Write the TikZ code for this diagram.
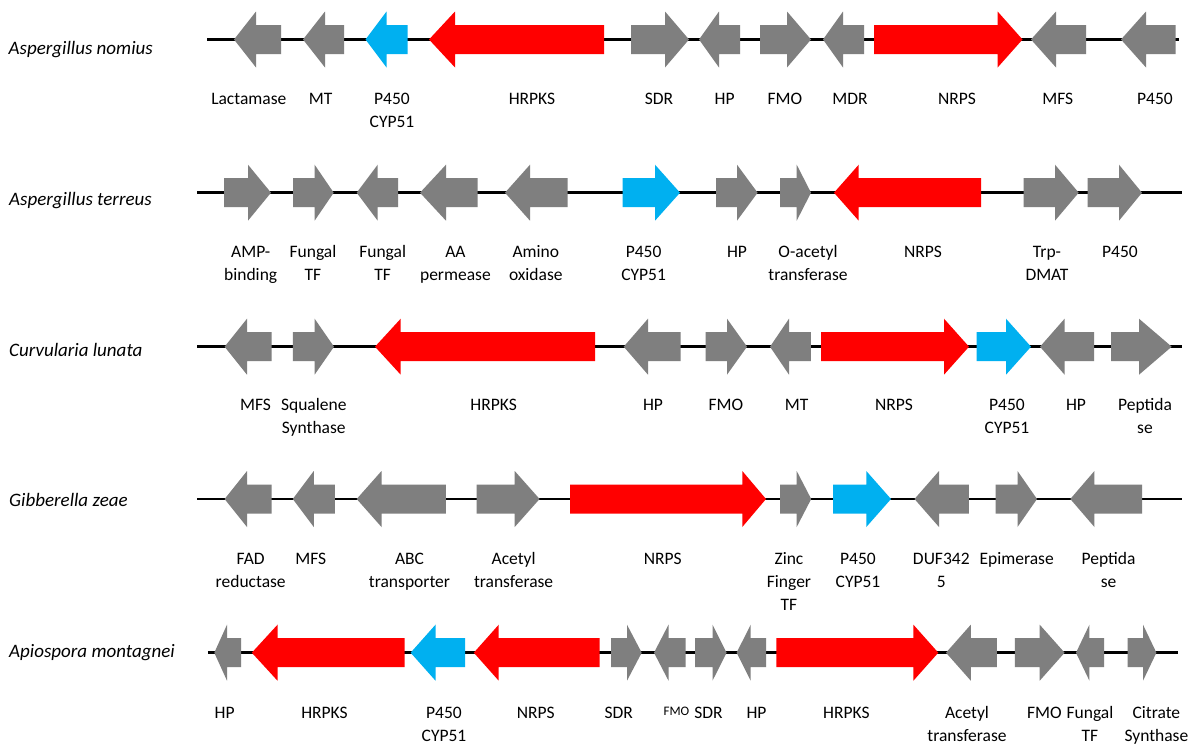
\documentclass[tikz,border=0pt]{standalone}
\usepackage{fontspec}
\setmainfont{Carlito}
\definecolor{gg}{RGB}{127,127,127}
\definecolor{rr}{RGB}{255,0,0}
\definecolor{bb}{RGB}{0,176,240}
\tikzset{
  chrom/.style={line width=2.5pt, black},
  lbl/.style={inner sep=0pt, anchor=base, font=\fontsize{17.5}{23}\selectfont},
  species/.style={inner sep=0pt, anchor=base west, font=\fontsize{19}{23}\selectfont\itshape},
}
% gene arrow: tail x, head-base x, tip x, y, colour
\newcommand\gene[5]{%
  \fill[#5] (#1,#4-14.5) -- (#2,#4-14.5) -- (#2,#4-28) -- (#3,#4) -- (#2,#4+28) -- (#2,#4+14.5) -- (#1,#4+14.5) -- cycle;}
\newcommand\glab[4]{\node[lbl] (#1) at (#2,#3) {\begin{tabular}[t]{@{}c@{}}#4\end{tabular}};}
\begin{document}
\begin{tikzpicture}[x=1pt,y=-1pt]
\useasboundingbox (0,0) rectangle (1189,744);
\fill[white] (0,0) rectangle (1189,744);

% ---------- Row 1 ----------
\node[species] (sp1) at (8.5,54) {Aspergillus nomius};
\coordinate (r1s) at (207,39.5); \coordinate (r1e) at (1179,39.5);
\draw[chrom] (r1s) -- (r1e);
\gene{281}{256}{234}{39.5}{gg}
\gene{344}{325}{303}{39.5}{gg}
\gene{407.6}{386.5}{365.5}{39.5}{bb}
\gene{604}{455}{429}{39.5}{rr}
\gene{631}{665}{689}{39.5}{gg}
\gene{740}{719}{699}{39.5}{gg}
\gene{760}{787}{811}{39.5}{gg}
\gene{864}{843}{823}{39.5}{gg}
\gene{874}{997.6}{1022.5}{39.5}{rr}
\gene{1086}{1056}{1031}{39.5}{gg}
\gene{1175.5}{1146}{1121}{39.5}{gg}
\glab{a1}{248.8}{104}{Lactamase}
\glab{a2}{320.7}{104}{MT}
\glab{a3}{392}{104}{P450\\CYP51}
\glab{a4}{532}{104}{HRPKS}
\glab{a5}{659}{104}{SDR}
\glab{a6}{724.7}{104}{HP}
\glab{a7}{785}{104}{FMO}
\glab{a8}{850}{104}{MDR}
\glab{a9}{957}{104}{NRPS}
\glab{a10}{1057.7}{104}{MFS}
\glab{a11}{1155}{104}{P450}

% ---------- Row 2 ----------
\node[species] (sp2) at (9,205) {Aspergillus terreus};
\coordinate (r2s) at (197,192.7); \coordinate (r2e) at (1182,192.7);
\draw[chrom] (r2s) -- (r2e);
\gene{224}{248}{271}{192.7}{gg}
\gene{293}{314.6}{333.7}{192.7}{gg}
\gene{398}{377.7}{356.7}{192.7}{gg}
\gene{477.6}{446}{420}{192.7}{gg}
\gene{567.5}{530}{505}{192.7}{gg}
\gene{622.5}{655}{680}{192.7}{bb}
\gene{716}{737}{757.6}{192.7}{gg}
\gene{780}{796.7}{811}{192.7}{gg}
\gene{981}{858.7}{834}{192.7}{rr}
\gene{1023.6}{1055}{1078.7}{192.7}{gg}
\gene{1087.5}{1119}{1142}{192.7}{gg}
\glab{b1}{250.7}{257.3}{AMP-\\binding}
\glab{b2}{313}{257.3}{Fungal\\TF}
\glab{b3}{382.7}{257.3}{Fungal\\TF}
\glab{b4}{455.4}{257.3}{AA\\permease}
\glab{b5}{535.8}{257.3}{Amino\\oxidase}
\glab{b6}{643.6}{257.3}{P450\\CYP51}
\glab{b7}{737}{257.3}{HP}
\glab{b8}{808}{257.3}{O-acetyl\\transferase}
\glab{b9}{923}{257.3}{NRPS}
\glab{b10}{1047}{257.3}{Trp-\\DMAT}
\glab{b11}{1120}{257.3}{P450}

% ---------- Row 3 ----------
\node[species] (sp3) at (9,356) {Curvularia lunata};
\coordinate (r3s) at (197,346.7); \coordinate (r3e) at (1182.4,346.7);
\draw[chrom] (r3s) -- (r3e);
\gene{271.7}{247}{224.6}{346.7}{gg}
\gene{292.8}{314.6}{334}{346.7}{gg}
\gene{595}{400.7}{375}{346.7}{rr}
\gene{680.7}{648}{623.7}{346.7}{gg}
\gene{705.6}{727}{747}{346.7}{gg}
\gene{810.8}{789}{770}{346.7}{gg}
\gene{821}{944}{969}{346.7}{rr}
\gene{976.5}{1006}{1031}{346.7}{bb}
\gene{1094}{1064.6}{1040}{346.7}{gg}
\gene{1111}{1139}{1171.7}{346.7}{gg}
\glab{c1}{255.6}{410.6}{MFS}
\glab{c2}{313.8}{410.6}{Squalene\\Synthase}
\glab{c3}{493.7}{410.6}{HRPKS}
\glab{c4}{653}{410.6}{HP}
\glab{c5}{725.9}{410.6}{FMO}
\glab{c6}{796.7}{410.6}{MT}
\glab{c7}{894}{410.6}{NRPS}
\glab{c8}{1007}{410.6}{P450\\CYP51}
\glab{c9}{1076}{410.6}{HP}
\glab{c10}{1145}{410.6}{Peptida\\se}

% ---------- Row 4 ----------
\node[species] (sp4) at (9,506) {Gibberella zeae};
\coordinate (r4s) at (197,499); \coordinate (r4e) at (1182.4,499);
\draw[chrom] (r4s) -- (r4e);
\gene{271.7}{247}{224.6}{499}{gg}
\gene{334.9}{313.8}{292.8}{499}{gg}
\gene{445.8}{381.5}{356.7}{499}{gg}
\gene{476.5}{514.7}{539.6}{499}{gg}
\gene{570.2}{742.3}{766}{499}{rr}
\gene{780.2}{796.7}{811.2}{499}{gg}
\gene{833}{866.3}{891}{499}{bb}
\gene{968.9}{939}{914.5}{499}{gg}
\gene{995.7}{1017.5}{1037}{499}{gg}
\gene{1142.2}{1094.4}{1070.3}{499}{gg}
\glab{d1}{250.7}{564.9}{FAD\\reductase}
\glab{d2}{310.8}{564.9}{MFS}
\glab{d3}{409.5}{564.9}{ABC\\transporter}
\glab{d4}{513.6}{564.9}{Acetyl\\transferase}
\glab{d5}{662.7}{564.9}{NRPS}
\glab{d6}{789}{564.9}{Zinc\\Finger\\TF}
\glab{d7}{858}{564.9}{P450\\CYP51}
\glab{d8}{941.3}{564.9}{DUF342\\5}
\glab{d9}{1016.7}{564.9}{Epimerase}
\glab{d10}{1108.6}{564.9}{Peptida\\se}

% ---------- Row 5 ----------
\node[species] (sp5) at (9,657) {Apiospora montagnei};
\coordinate (r5s) at (207.8,652.7); \coordinate (r5e) at (1177.5,652.7);
\draw[chrom] (r5s) -- (r5e);
\gene{241}{227}{214.3}{652.7}{gg}
\gene{404.5}{277.5}{251.8}{652.7}{rr}
\gene{465}{435.5}{410.6}{652.7}{bb}
\gene{599.6}{498.7}{473.8}{652.7}{rr}
\gene{611}{627}{641.7}{652.7}{gg}
\gene{685.7}{668.5}{654}{652.7}{gg}
\gene{695}{712.5}{726.6}{652.7}{gg}
\gene{766}{750.7}{736.6}{652.7}{gg}
\gene{776.4}{913.4}{938.3}{652.7}{rr}
\gene{996.8}{970.8}{946}{652.7}{gg}
\gene{1014.8}{1039.7}{1064.6}{652.7}{gg}
\gene{1104}{1089.4}{1076}{652.7}{gg}
\gene{1127.7}{1143}{1156.4}{652.7}{gg}
\glab{e1}{224.6}{718.9}{HP}
\glab{e2}{324.5}{718.9}{HRPKS}
\glab{e3}{444}{718.9}{P450\\CYP51}
\glab{e4}{535.8}{718.9}{NRPS}
\glab{e5}{618.7}{718.9}{SDR}
\node[lbl, font=\fontsize{13}{15}\selectfont] (e6) at (676.5,715.5) {FMO};
\glab{e7}{708.6}{718.9}{SDR}
\glab{e8}{756.5}{718.9}{HP}
\glab{e9}{846.4}{718.9}{HRPKS}
\glab{e10}{967}{718.9}{Acetyl\\transferase}
\glab{e11}{1044.4}{718.9}{FMO}
\glab{e12}{1090}{718.9}{Fungal\\TF}
\glab{e13}{1156.4}{718.9}{Citrate\\Synthase}
\end{tikzpicture}
\end{document}
